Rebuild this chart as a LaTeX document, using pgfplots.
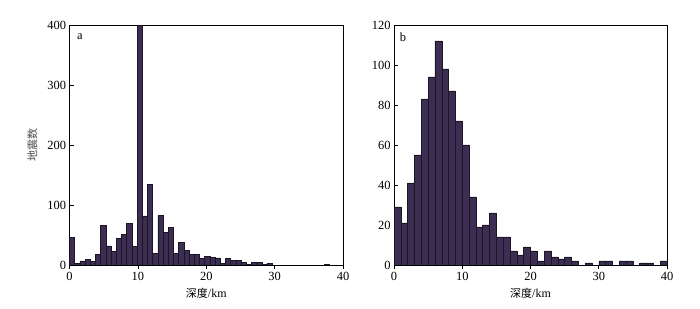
\documentclass[border=0pt]{standalone}
\usepackage{fontspec}
\setmainfont{Liberation Serif}
\newfontfamily\cjk{Noto Sans CJK SC}[Scale=0.92]
\usepackage{pgfplots}
\pgfplotsset{compat=1.18}
\definecolor{barfill}{RGB}{60,46,82}
\definecolor{baredge}{RGB}{28,22,36}

\pgfplotstableread{
x y
0.38 46
1.14 3
1.90 7
2.66 9
3.42 6
4.18 18
4.94 66
5.70 32
6.46 23
7.22 45
7.98 51
8.74 70
9.50 31
10.26 400
11.02 82
11.78 135
12.54 19
13.30 83
14.06 55
14.82 63
15.58 19
16.34 38
17.10 25
17.86 18
18.62 18
19.38 11
20.14 14
20.90 13
21.66 12
22.42 3
23.18 11
23.94 8
24.70 8
25.46 5
26.22 1
26.98 4
27.74 5
28.50 1
29.26 3
37.62 1
}\dataA

\pgfplotstableread{
x y
0.5 29
1.5 21
2.5 41
3.5 55
4.5 83
5.5 94
6.5 112
7.5 98
8.5 87
9.5 72
10.5 60
11.5 34
12.5 19
13.5 20
14.5 26
15.5 14
16.5 14
17.5 7
18.5 5
19.5 9
20.5 7
21.5 2
22.5 7
23.5 4
24.5 3
25.5 4
26.5 2
28.5 1
30.5 2
31.5 2
33.5 2
34.5 2
36.5 1
37.5 1
39.5 2
}\dataB

\pgfplotsset{
  histo/.style={
    anchor=south west,
    scale only axis,
    xmin=0, xmax=40, ymin=0,
    xtick={0,10,20,30,40},
    axis line style={line width=0.8pt, black},
    tick align=inside,
    tick pos=left,
    major tick length=4bp,
    tick style={line width=0.7pt, black},
    ticklabel style={font=\fontsize{12.5}{14}\selectfont},
    /pgf/number format/assume math mode=true,
    xlabel={{\cjk 深度}/km},
    xlabel style={font=\fontsize{12}{14}\selectfont, at={(axis description cs:0.5,-0.118)}, anchor=center},
    ybar,
    bar shift=0pt,
    clip=true,
  }
}

\begin{document}
\begin{tikzpicture}
\path[use as bounding box] (0,0) rectangle (700bp,309bp);

\begin{axis}[histo,
  at={(69.5bp,44bp)}, width=273.5bp, height=239.5bp,
  ymax=400, ytick={0,100,200,300,400},
  ylabel={\cjk 地震数},
  ylabel style={font=\fontsize{12}{14}\selectfont, text=black!70, at={(axis description cs:-0.135,0.5)}, rotate=0, anchor=center},
  bar width=0.76,
]
\addplot[fill=barfill, draw=baredge, line width=0.5pt] table[x=x,y=y] {\dataA};
\node[font=\fontsize{12.5}{14}\selectfont] at (axis description cs:0.038,0.955) {a};
\end{axis}

\begin{axis}[histo,
  at={(394bp,44bp)}, width=273bp, height=240bp,
  ymax=120, ytick={0,20,40,60,80,100,120},
  bar width=1,
]
\addplot[fill=barfill, draw=baredge, line width=0.5pt] table[x=x,y=y] {\dataB};
\node[font=\fontsize{12.5}{14}\selectfont] at (axis description cs:0.033,0.95) {b};
\end{axis}
\end{tikzpicture}
\end{document}
